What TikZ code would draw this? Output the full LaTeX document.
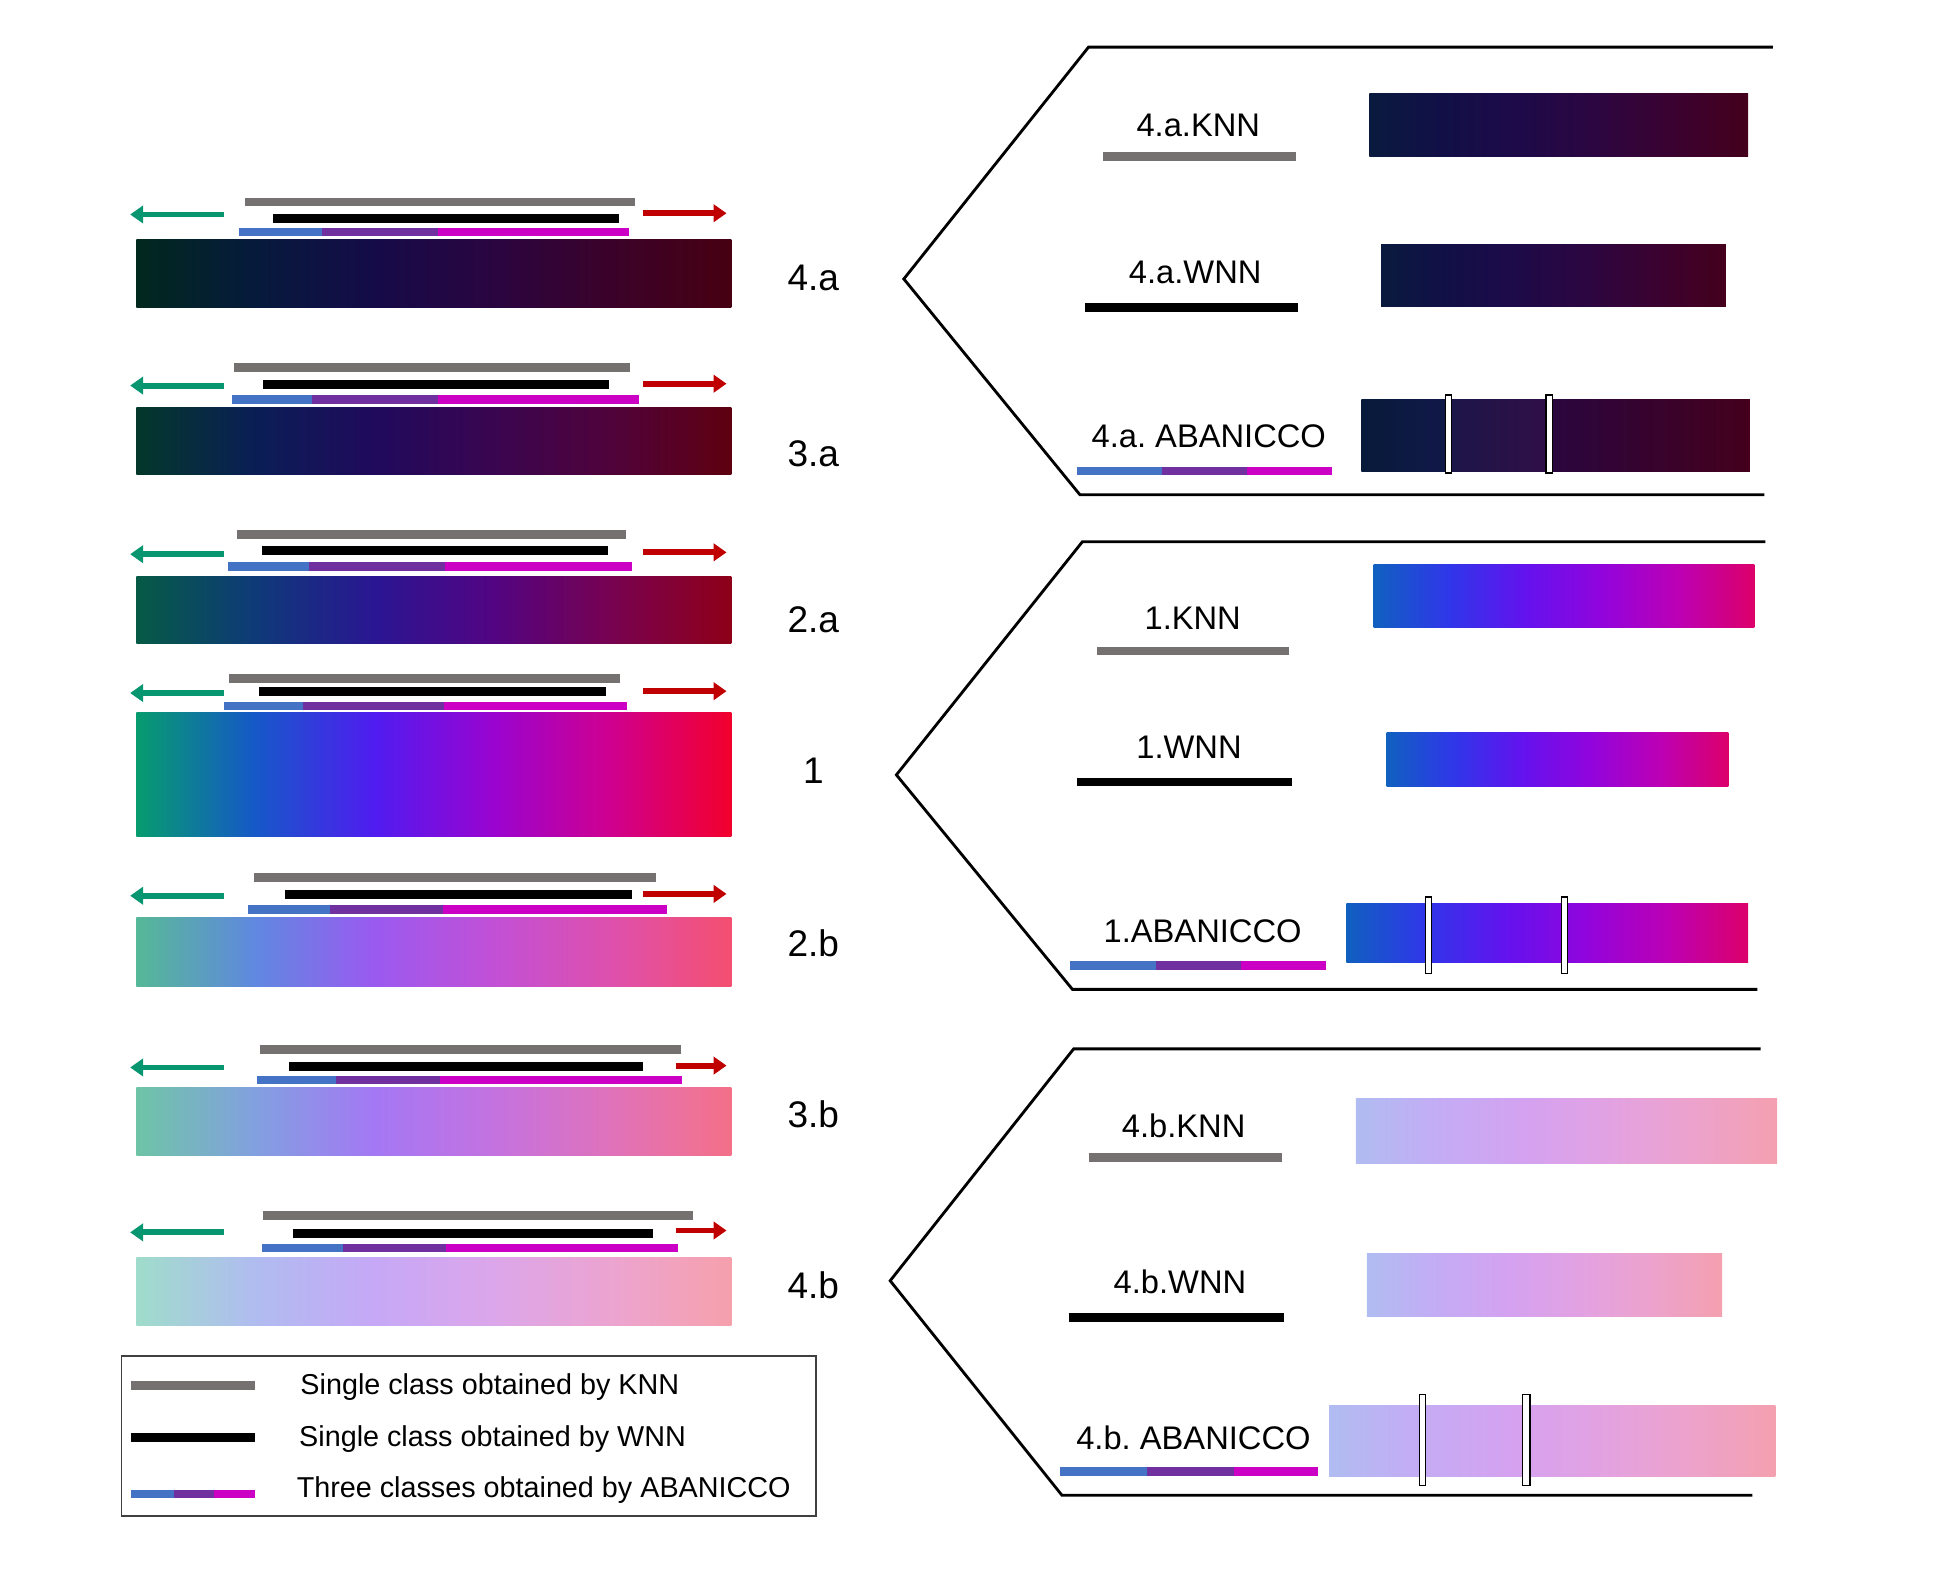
\documentclass[tikz,border=0pt]{standalone}
\usepackage{fontspec}
\setmainfont{Liberation Sans}
\usetikzlibrary{arrows.meta}
\frenchspacing

\definecolor{knngray}{HTML}{767171}
\definecolor{abblue}{HTML}{4472C4}
\definecolor{abpurple}{HTML}{7030A0}
\definecolor{abmag}{HTML}{CC00C4}
\definecolor{arrgreen}{HTML}{079670}
\definecolor{arrred}{HTML}{C00000}
\definecolor{legframe}{HTML}{404040}
\definecolor{cutonel}{HTML}{081A3A}
\definecolor{cutoner}{HTML}{111849}
\definecolor{cuttwol}{HTML}{1C1648}
\definecolor{cuttwor}{HTML}{300F48}
\definecolor{cutthreel}{HTML}{2A063F}
\definecolor{cutthreer}{HTML}{44001C}

% six-stop horizontal colour ramps
\newcommand{\mkshade}[7]{%
  \definecolor{#1A}{HTML}{#2}\definecolor{#1B}{HTML}{#3}\definecolor{#1C}{HTML}{#4}%
  \definecolor{#1D}{HTML}{#5}\definecolor{#1E}{HTML}{#6}\definecolor{#1F}{HTML}{#7}%
  \pgfdeclarehorizontalshading{#1}{100bp}{color(0bp)=(#1A); color(25bp)=(#1A);
    color(35bp)=(#1B); color(45bp)=(#1C); color(55bp)=(#1D); color(65bp)=(#1E);
    color(75bp)=(#1F); color(100bp)=(#1F)}}
\mkshade{lfa}{01281D}{061A3C}{150B48}{2A0540}{3B0229}{470012}
\mkshade{lta}{04382A}{0A1E55}{200A5C}{3A0550}{50033A}{5E0010}
\mkshade{lsa}{065A45}{0E3A78}{2A1692}{520482}{780250}{8E0018}
\mkshade{lone}{079C6E}{1658C8}{501CF0}{9A04D0}{D0008E}{F2002C}
\mkshade{lsb}{55B896}{6088E0}{9A5AF0}{C250D6}{DE50AC}{F44F70}
\mkshade{ltb}{6EC4A6}{82A0E0}{A478F4}{C472E0}{E072BA}{F47088}
\mkshade{lfb}{9FDCCB}{B0BCF0}{C6A8F6}{DCA6EA}{ECA4D0}{F6A0AC}
\mkshade{rfa}{0A1A3E}{120F47}{1E0A48}{2C0640}{3A0230}{44001C}
\mkshade{rone}{1060C0}{3036EA}{6412EE}{9204DC}{BC00B4}{DC006A}
\mkshade{rfb}{B0BCF2}{C4ACF4}{D4A2F0}{E2A2E2}{ECA2CC}{F4A0B0}

\begin{document}
\begin{tikzpicture}[x=0.02cm,y=-0.02cm,
  kbar/.style={draw=knngray,line width=0.14cm},
  wbar/.style={draw=black,line width=0.14cm},
  bseg/.style={draw=abblue,line width=0.14cm},
  pseg/.style={draw=abpurple,line width=0.14cm},
  mseg/.style={draw=abmag,line width=0.14cm},
  garrow/.style={draw=arrgreen,line width=0.096cm,-{Triangle[length=0.21cm,width=0.28cm]}},
  rarrow/.style={draw=arrred,line width=0.096cm,-{Triangle[length=0.21cm,width=0.28cm]}},
  cutbox/.style={fill=white,draw=black,line width=0.6pt},
  frame/.style={draw=black,line width=1.3pt,line join=miter},
  rowlabel/.style={font=\fontsize{17}{20}\selectfont,inner sep=0pt},
  methlabel/.style={font=\fontsize{15}{18}\selectfont,inner sep=0pt},
  legtext/.style={font=\fontsize{13.2}{16}\selectfont,inner sep=0pt,anchor=base west}]

  \useasboundingbox (0,0) rectangle (1568,1267);

  % left column: 4.a
  \shade[shading=lfa] (110,193) rectangle (590,248);
  \draw[kbar] (198,163) -- (512,163);
  \draw[wbar] (220,176) -- (499,176);
  \draw[bseg] (193,187) -- (260,187);
  \draw[pseg] (260,187) -- (353,187);
  \draw[mseg] (353,187) -- (507,187);
  \draw[garrow] (181,173) -- (105,173);
  \draw[rarrow] (519,172) -- (586,172);
  \path (656,224) node[rowlabel] (l4a) {4.a};

  % 3.a
  \shade[shading=lta] (110,329) rectangle (590,383);
  \draw[kbar] (189,296.5) -- (508,296.5);
  \draw[wbar] (212,310) -- (491,310);
  \draw[bseg] (187,322) -- (252,322);
  \draw[pseg] (252,322) -- (353,322);
  \draw[mseg] (353,322) -- (515,322);
  \draw[garrow] (181,311) -- (105,311);
  \draw[rarrow] (519,309.5) -- (586,309.5);
  \path (656,366) node[rowlabel] (l3a) {3.a};

  % 2.a
  \shade[shading=lsa] (110,465) rectangle (590,519);
  \draw[kbar] (191,431) -- (505,431);
  \draw[wbar] (211,444) -- (490,444);
  \draw[bseg] (184,457) -- (249,457);
  \draw[pseg] (249,457) -- (359,457);
  \draw[mseg] (359,457) -- (510,457);
  \draw[garrow] (181,447) -- (105,447);
  \draw[rarrow] (519,445.5) -- (586,445.5);
  \path (656,500) node[rowlabel] (l2a) {2.a};

  % 1
  \shade[shading=lone] (110,575) rectangle (590,675);
  \draw[kbar] (185,547) -- (500,547);
  \draw[wbar] (209,558) -- (489,558);
  \draw[bseg] (181,569.5) -- (244,569.5);
  \draw[pseg] (244,569.5) -- (358,569.5);
  \draw[mseg] (358,569.5) -- (506,569.5);
  \draw[garrow] (181,559) -- (105,559);
  \draw[rarrow] (519,557.5) -- (586,557.5);
  \path (656,622) node[rowlabel] (l1) {1};

  % 2.b
  \shade[shading=lsb] (110,740) rectangle (590,796);
  \draw[kbar] (205,707.5) -- (529,707.5);
  \draw[wbar] (230,721.5) -- (510,721.5);
  \draw[bseg] (200,733.5) -- (266,733.5);
  \draw[pseg] (266,733.5) -- (357,733.5);
  \draw[mseg] (357,733.5) -- (538,733.5);
  \draw[garrow] (181,722.5) -- (105,722.5);
  \draw[rarrow] (519,721) -- (586,721);
  \path (656,761) node[rowlabel] (l2b) {2.b};

  % 3.b
  \shade[shading=ltb] (110,877) rectangle (590,932);
  \draw[kbar] (210,846.5) -- (549,846.5);
  \draw[wbar] (233,860) -- (519,860);
  \draw[bseg] (207,871) -- (271,871);
  \draw[pseg] (271,871) -- (355,871);
  \draw[mseg] (355,871) -- (550,871);
  \draw[garrow] (181,861) -- (105,861);
  \draw[rarrow] (545,859.5) -- (586,859.5);
  \path (656,899) node[rowlabel] (l3b) {3.b};

  % 4.b
  \shade[shading=lfb] (110,1014) rectangle (590,1069);
  \draw[kbar] (212,980.5) -- (559,980.5);
  \draw[wbar] (236,995) -- (527,995);
  \draw[bseg] (211,1006.5) -- (277,1006.5);
  \draw[pseg] (277,1006.5) -- (360,1006.5);
  \draw[mseg] (360,1006.5) -- (547,1006.5);
  \draw[garrow] (181,994) -- (105,994);
  \draw[rarrow] (545,992.5) -- (586,992.5);
  \path (656,1037) node[rowlabel] (l4b) {4.b};

  % legend
  \draw[legframe,line width=0.9pt] (98,1094) rectangle (658,1223);
  \draw[kbar] (106,1117.5) -- (206,1117.5);
  \draw[wbar] (106,1159.5) -- (206,1159.5);
  \draw[bseg] (106,1205) -- (140,1205);
  \draw[pseg] (140,1205) -- (173,1205);
  \draw[mseg] (173,1205) -- (206,1205);
  \path (242,1124.5) node[legtext] (kleg) {Single class obtained by KNN};
  \path (241,1167) node[legtext] (wleg) {Single class obtained by WNN};
  \path (239,1207.5) node[legtext] (aleg) {Three classes obtained by ABANICCO};

  % right panel 4.a
  \draw[frame] (1430,38) -- (878,38) -- (729,225) -- (871,399) -- (1423,399);
  \path (966.5,101) node[methlabel] (k4a) {4.a.KNN};
  \draw[kbar] (890,126.5) -- (1045,126.5);
  \shade[shading=rfa] (1104.5,75.6) rectangle (1410,126);
  \path (964,219.5) node[methlabel] (w4a) {4.a.WNN};
  \draw[wbar] (875,248) -- (1047,248);
  \shade[shading=rfa] (1114,197) rectangle (1392,247);
  \path (975,352) node[methlabel] (a4a) {4.a. ABANICCO};
  \draw[bseg] (868.5,380) -- (937,380);
  \draw[pseg] (937,380) -- (1006,380);
  \draw[mseg] (1006,380) -- (1074.5,380);
  \shade[left color=cutonel,right color=cutoner] (1098,322.5) rectangle (1168,380);
  \shade[left color=cuttwol,right color=cuttwor] (1168,322.5) rectangle (1249.5,380);
  \shade[left color=cutthreel,right color=cutthreer] (1249.5,322.5) rectangle (1411.5,380);
  \path[cutbox] (1166,318.5) rectangle (1171,381.5);
  \path[cutbox] (1247,318.5) rectangle (1252,381.5);

  % right panel 1
  \draw[frame] (1424,437) -- (873,437) -- (723,625) -- (865,798) -- (1417.5,798);
  \path (962,499) node[methlabel] (k1) {1.KNN};
  \draw[kbar] (885,525) -- (1040,525);
  \shade[shading=rone] (1108,455) rectangle (1415,506);
  \path (959,602.6) node[methlabel] (w1) {1.WNN};
  \draw[wbar] (869,630.7) -- (1042,630.7);
  \shade[shading=rone] (1118.5,591) rectangle (1394,634);
  \path (970,751) node[methlabel] (a1) {1.ABANICCO};
  \draw[bseg] (862.7,779) -- (932,779);
  \draw[pseg] (932,779) -- (1001,779);
  \draw[mseg] (1001,779) -- (1069.5,779);
  \shade[shading=rone] (1086,728.6) rectangle (1410,776);
  \path[cutbox] (1149.6,723.5) rectangle (1154.6,785);
  \path[cutbox] (1259.5,723.5) rectangle (1264.5,785);

  % right panel 4.b
  \draw[frame] (1420,846) -- (866,846) -- (718,1033) -- (856.5,1206) -- (1413.5,1206);
  \path (954.7,908) node[methlabel] (k4b) {4.b.KNN};
  \draw[kbar] (878,933.6) -- (1034,933.6);
  \shade[shading=rfb] (1093.6,885.7) rectangle (1433.4,938.5);
  \path (951.7,1034) node[methlabel] (w4b) {4.b.WNN};
  \draw[wbar] (862,1062.6) -- (1035.5,1062.6);
  \shade[shading=rfb] (1102.5,1011) rectangle (1389,1062);
  \path (962.6,1159.6) node[methlabel] (a4b) {4.b. ABANICCO};
  \draw[bseg] (855,1187) -- (925,1187);
  \draw[pseg] (925,1187) -- (995,1187);
  \draw[mseg] (995,1187) -- (1063.4,1187);
  \shade[shading=rfb] (1072,1133.6) rectangle (1432,1191);
  \path[cutbox] (1145,1125) rectangle (1150,1198);
  \path[cutbox] (1228,1125) rectangle (1234,1198);

\end{tikzpicture}
\end{document}
